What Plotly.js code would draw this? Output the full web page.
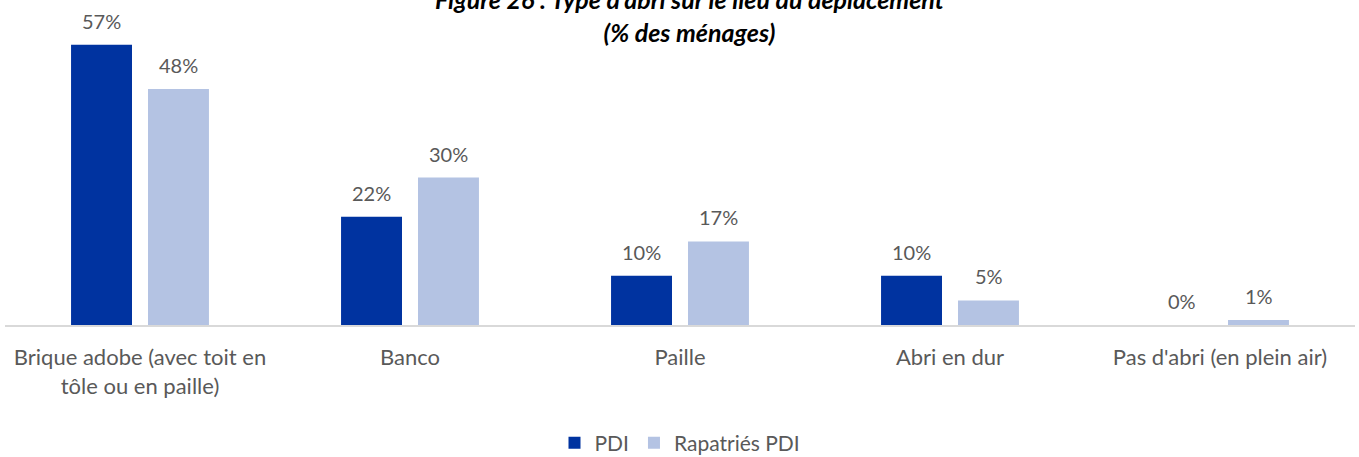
<!DOCTYPE html>
<html>
<head>
<meta charset="utf-8">
<script src="https://cdn.plot.ly/plotly-3.0.1.min.js"></script>
<style>html,body{margin:0;padding:0;background:#fff;}#chart{width:1359px;height:457px;}</style>
</head>
<body>
<div id="chart"></div>
<script>
const categories = [
  "Brique adobe (avec toit en<br>tôle ou en paille)",
  "Banco",
  "Paille",
  "Abri en dur",
  "Pas d'abri (en plein air)"
];
const seriesNames = ["PDI", "Rapatriés PDI"];
const pdiValues = [57, 22, 10, 10, 0];
const rapatriesValues = [48, 30, 17, 5, 1];
const seriesColors = ["#0033A0", "#B4C3E3"];
const titleText = "<b><i>Figure 26 : Type d'abri sur le lieu du déplacement<br>(% des ménages)</i></b>";

const font = "Lato, 'Open Sans', sans-serif";
const grey = "#595959";

const allValues = [pdiValues, rapatriesValues];
const traces = allValues.map((vals, i) => ({
  type: "bar",
  name: seriesNames[i],
  x: categories,
  y: vals,
  marker: {color: seriesColors[i]},
  hoverinfo: "none"
}));

const annotations = [];
allValues.forEach((vals, i) => {
  vals.forEach((v, j) => {
    annotations.push({
      x: categories[j], y: v, xref: "x", yref: "y",
      xshift: i === 0 ? -38.5 : 38.5, yshift: 10,
      yanchor: "bottom", showarrow: false,
      text: v + "%",
      font: {family: font, size: 20, color: grey}
    });
  });
});
annotations.push({
  xref: "paper", yref: "paper", x: 0.507, y: 1.0, yanchor: "middle", yshift: 15,
  showarrow: false, text: titleText,
  font: {family: font, size: 25, color: "#000"}
});

const layout = {
  width: 1359, height: 457,
  margin: {l: 5, r: 4, t: 30, b: 132, autoexpand: false},
  paper_bgcolor: "#fff", plot_bgcolor: "#fff",
  barmode: "group", bargap: 0.43, bargroupgap: 0.208,
  showlegend: true,
  legend: {orientation: "h", x: 0.5, xanchor: "center", y: -0.4, yanchor: "middle",
    font: {family: font, size: 21, color: grey}, traceorder: "normal"},
  xaxis: {showline: true, linecolor: "#d9d9d9", linewidth: 2, ticks: "",
    automargin: false, ticklabelstandoff: 12,
    tickfont: {family: font, size: 22, color: grey}, showgrid: false, zeroline: false},
  yaxis: {range: [0, 60], visible: false, showgrid: false, zeroline: false},
  annotations: annotations
};

Plotly.newPlot("chart", traces, layout, {displayModeBar: false, staticPlot: true});
</script>
</body>
</html>
